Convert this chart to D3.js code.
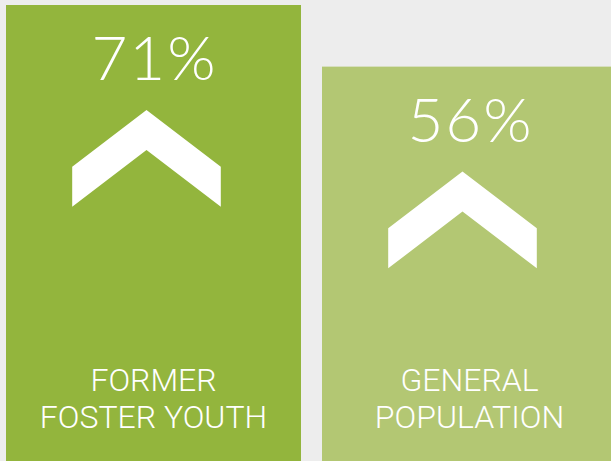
<!DOCTYPE html>
<html>
<head>
<meta charset="utf-8">
<script src="https://cdn.jsdelivr.net/npm/d3@7"></script>
<style>
  html, body { margin: 0; padding: 0; background: #ededed; }
  svg { display: block; }
</style>
</head>
<body>
<svg id="chart" width="611" height="461"></svg>
<script>
const categories = ["FORMER FOSTER YOUTH", "GENERAL POPULATION"];
const labelLines = [["FORMER", "FOSTER YOUTH"], ["GENERAL", "POPULATION"]];
const values = [71, 56];
const valueLabels = ["71%", "56%"];
const colors = ["#93b53d", "#b3c773"];

const W = 611, H = 461;
const svg = d3.select("#chart");

const x = d3.scaleBand().domain(categories).range([6, 617]).paddingInner(21 / 316).paddingOuter(0);
const y = d3.scaleLinear().domain([-40, 71]).range([H, 5]);

const g = svg.selectAll("g.bar").data(categories).join("g").attr("class", "bar");

g.append("rect")
  .attr("x", d => x(d))
  .attr("y", (d, i) => y(values[i]))
  .attr("width", x.bandwidth())
  .attr("height", (d, i) => H - y(values[i]))
  .attr("fill", (d, i) => colors[i]);

g.append("text")
  .attr("x", d => x(d) + x.bandwidth() / 2 + 1)
  .attr("y", (d, i) => y(values[i]) + 75)
  .attr("text-anchor", "middle")
  .attr("fill", "#fff")
  .style("font-family", "Lato, 'Open Sans', sans-serif")
  .style("font-weight", 300)
  .style("font-size", "62px")
  .style("letter-spacing", "2px")
  .text((d, i) => valueLabels[i]);

// chevron
const cw = 74.3, ch = 56.7, th = 40;
g.append("path")
  .attr("d", (d, i) => {
    const cx = x(d) + x.bandwidth() / 2 - 7;
    const ay = y(values[i]) + 105;
    return `M${cx},${ay} L${cx + cw},${ay + ch} L${cx + cw},${ay + ch + th} L${cx},${ay + th} L${cx - cw},${ay + ch + th} L${cx - cw},${ay + ch} Z`;
  })
  .attr("fill", "#fff");

g.each(function(d, i) {
  const t = d3.select(this).append("text")
    .attr("text-anchor", "middle")
    .attr("fill", "#fff")
    .style("font-family", "Roboto, sans-serif")
    .style("font-weight", 300)
    .style("font-size", "32px");
  labelLines[i].forEach((line, j) => {
    t.append("tspan")
      .attr("x", x(d) + x.bandwidth() / 2)
      .attr("y", 391 + j * 37.3)
      .text(line);
  });
});
</script>
</body>
</html>
